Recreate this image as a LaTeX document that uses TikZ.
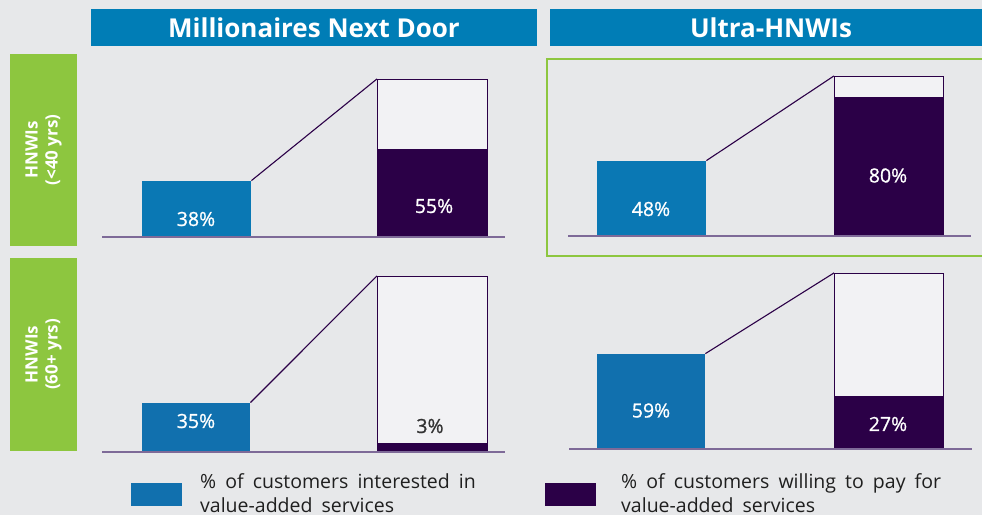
\documentclass[tikz,border=0pt]{standalone}
\usepackage{fontspec}
\setmainfont{Open Sans}
\newfontfamily\semifont[FakeBold=0.9]{Open Sans}
\newfontfamily\legfont[WordSpace=1.8]{Open Sans}
\definecolor{bg}{HTML}{E7E8EA}
\definecolor{hblue}{HTML}{007DB6}
\definecolor{barblue}{HTML}{0A78B4}
\definecolor{barblueb}{HTML}{1170AE}
\definecolor{dpurple}{HTML}{2B0047}
\definecolor{lpurple}{HTML}{7E6A98}
\definecolor{lgreen}{HTML}{8DC63F}
\definecolor{boxwhite}{HTML}{F2F2F4}
\tikzset{
  header/.style={fill=hblue, text=white, font=\bfseries\fontsize{26}{28}\selectfont, inner sep=0pt},
  htext/.style={text=white, font=\bfseries\fontsize{26}{28}\selectfont, inner sep=0pt},
  side/.style={fill=lgreen, text=white, rotate=90, font=\bfseries\fontsize{17}{20}\selectfont, align=center, inner sep=0pt, minimum width=192pt, minimum height=67pt},
  axisline/.style={draw=lpurple, line width=1.5pt},
  bluebar/.style={fill=#1, inner sep=0pt, anchor=south west, minimum width=109pt},
  outbox/.style={fill=boxwhite, draw=dpurple, line width=1.1pt, inner sep=0pt, anchor=south west, minimum width=110pt},
  darkbar/.style={fill=dpurple, inner sep=0pt, anchor=south west, minimum width=110pt},
  link/.style={draw=dpurple, line width=1.1pt},
  pct/.style={text=white, font=\semifont\fontsize{19.5}{22}\selectfont, inner sep=0pt},
  legtext/.style={font=\legfont\fontsize{19.5}{24}\selectfont, align=left, inner sep=0pt, anchor=base west, text=black!88},
  legbox/.style={inner sep=0pt, anchor=north west, minimum width=51pt, minimum height=23pt},
}
\begin{document}
\begin{tikzpicture}[x=1pt,y=-1pt]
\clip (0,0) rectangle (982,515);
\fill[bg] (0,0) rectangle (982,515);
% headers
\node[header, minimum width=446pt, minimum height=37pt] (h1) at (314,27.5) {Millionaires Next Door};
\node[header, minimum width=440pt, minimum height=37pt, anchor=west] (h2) at (550,27.5) {};
\node[htext] (h2t) at (771,27.5) {Ultra-HNWIs};
% side labels
\node[side] (s1) at (43.5,150) {HNWIs\\(<40 yrs)};
\node[side, minimum width=193pt] (s2) at (43.5,354.5) {HNWIs\\(60+ yrs)};
% highlight box
\draw[lgreen, line width=2.5pt] (547,59) rectangle (995,256);

% ---- panel 1 (top-left)
\coordinate (p1l) at (102,237); \coordinate (p1r) at (505,237);
\node[bluebar=barblue, minimum height=56pt] (a1) at (142,237) {};
\node[outbox, minimum height=157pt] (o1) at (377,237) {};
\node[darkbar, minimum height=88pt] (d1) at (377,237) {};
\draw[axisline] (p1l) -- (p1r);
\draw[link] (a1.north east) -- (o1.north west);
\node[pct] (t1) at (196,219) {38\%};
\node[pct] (t2) at (434,206) {55\%};

% ---- panel 2 (top-right)
\coordinate (p2l) at (568,236); \coordinate (p2r) at (971,236);
\node[bluebar=barblue, minimum height=75pt] (a2) at (597,236) {};
\node[outbox, minimum height=159pt, minimum width=109pt] (o2) at (834,236) {};
\node[darkbar, minimum height=139pt, minimum width=109pt] (d2) at (834,236) {};
\draw[axisline] (p2l) -- (p2r);
\draw[link] (a2.north east) -- (o2.north west);
\node[pct] (t3) at (651,209) {48\%};
\node[pct] (t4) at (888,175.5) {80\%};

% ---- panel 3 (bottom-left)
\coordinate (p3l) at (102,452); \coordinate (p3r) at (505,452);
\node[bluebar=barblueb, minimum height=49pt, minimum width=108pt] (a3) at (142,452) {};
\node[outbox, minimum height=175pt] (o3) at (377,452) {};
\node[darkbar, minimum height=9pt] (d3) at (377,452) {};
\draw[axisline] (p3l) -- (p3r);
\draw[link] (a3.north east) -- (o3.north west);
\node[pct] (t5) at (196,421) {35\%};
\node[pct, text=black!80] (t6) at (430,426) {3\%};

% ---- panel 4 (bottom-right)
\coordinate (p4l) at (569,449); \coordinate (p4r) at (972,449);
\node[bluebar=barblueb, minimum height=95pt, minimum width=108pt] (a4) at (597,449) {};
\node[outbox, minimum height=175pt, minimum width=109pt] (o4) at (834,449) {};
\node[darkbar, minimum height=53pt, minimum width=109pt] (d4) at (834,449) {};
\draw[axisline] (p4l) -- (p4r);
\draw[link] (a4.north east) -- (o4.north west);
\node[pct] (t7) at (651,410.5) {59\%};
\node[pct] (t8) at (888,424) {27\%};

% ---- legend
\node[legbox, fill=barblueb] (k1) at (131,483) {};
\node[legtext] (k1t) at (200,512) {\% of customers interested in\\value-added services};
\node[legbox, fill=dpurple] (k2) at (545,483) {};
\node[legtext] (k2t) at (621,512) {\% of customers willing to pay for\\value-added services};
\end{tikzpicture}
\end{document}
